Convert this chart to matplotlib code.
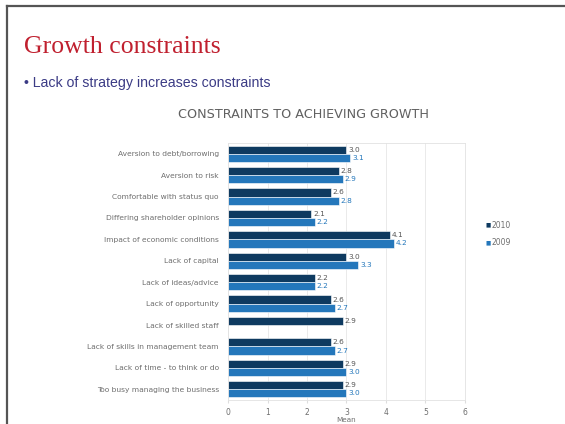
import numpy as np
import matplotlib.pyplot as plt
from matplotlib.lines import Line2D

# constraint categories, top to bottom
categories = [
    "Aversion to debt/borrowing",
    "Aversion to risk",
    "Comfortable with status quo",
    "Differing shareholder opinions",
    "Impact of economic conditions",
    "Lack of capital",
    "Lack of ideas/advice",
    "Lack of opportunity",
    "Lack of skilled staff",
    "Lack of skills in management team",
    "Lack of time - to think or do",
    "Too busy managing the business",
]
mean_2010 = [3.0, 2.8, 2.6, 2.1, 4.1, 3.0, 2.2, 2.6, 2.9, 2.6, 2.9, 2.9]
mean_2009 = [3.1, 2.9, 2.8, 2.2, 4.2, 3.3, 2.2, 2.7, None, 2.7, 3.0, 3.0]
x_ticks = [0, 1, 2, 3, 4, 5, 6]

dark = "#0e3a60"
light = "#2477bb"
grey_txt = "#6e6e6e"

fig = plt.figure(figsize=(5.65, 4.24), dpi=100)

# slide frame
fig.add_artist(Line2D([7 / 565, 1], [1 - 6 / 424, 1 - 6 / 424], color="#555555", lw=1.6))
fig.add_artist(Line2D([7 / 565, 7 / 565], [0, 1 - 6 / 424], color="#555555", lw=1.6))

fig.text(24 / 565, 1 - 47 / 424, "Growth constraints", family="Liberation Serif",
         fontsize=18.5, color="#c0202f", va="center", ha="left")
fig.text(24 / 565, 1 - 83 / 424, "\u2022 Lack of strategy increases constraints",
         family="Liberation Sans", fontsize=10.2, color="#3b3b85", va="center", ha="left")
fig.text(303 / 565, 1 - 115 / 424, "CONSTRAINTS TO ACHIEVING GROWTH",
         fontsize=9.2, color="#606060", va="center", ha="center")

ax = fig.add_axes([228 / 565, 1 - 400 / 424, 237 / 565, 257 / 424])

y = np.arange(len(categories))
h = 0.38
for i, (a, b) in enumerate(zip(mean_2010, mean_2009)):
    ax.barh(y[i] - h / 2, a, height=h, color=dark, edgecolor="white", linewidth=0.4, zorder=2)
    ax.text(a + 0.05, y[i] - h / 2, f"{a:.1f}", fontsize=5.3, color="#555555",
            va="center", ha="left")
    if b is not None:
        ax.barh(y[i] + h / 2, b, height=h, color=light, edgecolor="white", linewidth=0.4, zorder=2)
        ax.text(b + 0.05, y[i] + h / 2, f"{b:.1f}", fontsize=5.3, color=light,
                va="center", ha="left")

ax.set_ylim(len(categories) - 0.5, -0.5)
ax.set_xlim(0, 6)
ax.set_yticks(y)
ax.set_yticklabels(categories, fontsize=5.4, color=grey_txt)
ax.set_xticks(x_ticks)
ax.set_xticklabels([str(t) for t in x_ticks], fontsize=5.5, color=grey_txt)
ax.tick_params(axis="y", length=0, pad=6.5)
ax.tick_params(axis="x", length=2, color="#dddddd", pad=4)
ax.grid(axis="x", color="#e6e6e6", lw=0.6, zorder=0)
for s in ax.spines.values():
    s.set_color("#e2e2e2")
    s.set_linewidth(0.6)
ax.set_xlabel("Mean", fontsize=5.2, color=grey_txt, labelpad=0)

# legend
fig.text(486 / 565, 1 - 225 / 424, "\u25a0", fontsize=4, color=dark, va="center", ha="left")
fig.text(492 / 565, 1 - 225 / 424, "2010", fontsize=5.5, color=grey_txt, va="center", ha="left")
fig.text(486 / 565, 1 - 243 / 424, "\u25a0", fontsize=4, color=light, va="center", ha="left")
fig.text(492 / 565, 1 - 243 / 424, "2009", fontsize=5.5, color=grey_txt, va="center", ha="left")

fig.savefig("out.png", dpi=100, facecolor="white")
